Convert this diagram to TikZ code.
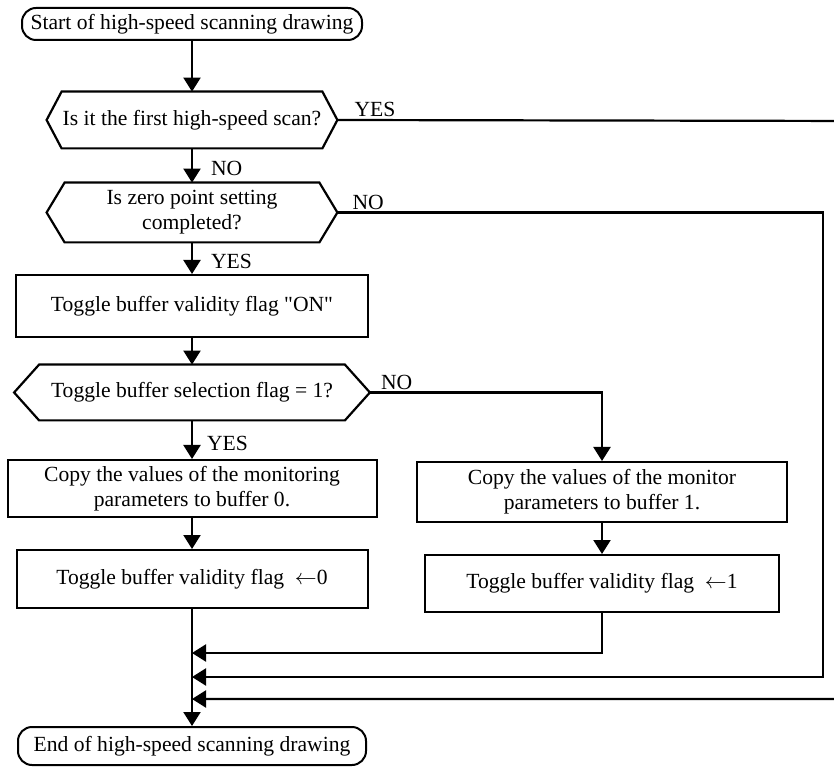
\documentclass[tikz,border=0pt]{standalone}
\usepackage{fontspec}
\setmainfont{Liberation Serif}
\usetikzlibrary{arrows.meta,calc,positioning}
\newcommand\hsdfont{\fontsize{10.8}{12.5}\selectfont}
\tikzset{
 hsd line/.style={line width=1.1pt},
 hsd arrow/.style={line width=1.1pt,-{Triangle[length=7pt,width=8.5pt]}},
 hsd box/.style={draw,line width=1pt,rectangle,align=center,inner sep=2pt,
                 font=\hsdfont},
 hsd term/.style={draw,line width=1pt,rectangle,rounded corners=7pt,
                  align=center,inner sep=2pt,font=\hsdfont},
 hsd decision/.style={rectangle,align=center,inner sep=2pt,font=\hsdfont},
 hsd label/.style={font=\hsdfont,inner sep=1pt}
}
% hexagon drawn round a decision node, #2 = depth of the side points
\newcommand\hsdhex[2]{%
 \draw[hsd line] (#1.west) -- ([xshift=#2]#1.north west)
   -- ([xshift=-#2]#1.north east) -- (#1.east)
   -- ([xshift=-#2]#1.south east) -- ([xshift=#2]#1.south west) -- cycle;}

\begin{document}
\begin{tikzpicture}[x=0.5pt,y=-0.5pt]
 \useasboundingbox (0,0) rectangle (834,769);
 \clip (0,0) rectangle (834,769);

 \node[hsd term,minimum width=170pt,minimum height=16pt] (start) at (192,24)
   {Start of high-speed scanning drawing};
 \node[hsd decision,minimum width=145pt,minimum height=28pt] (first) at (192,120)
   {Is it the first high-speed scan?};
 \node[hsd decision,minimum width=145pt,minimum height=29.5pt] (zero) at (192,212.5)
   {Is zero point setting\\completed?};
 \node[hsd box,minimum width=176pt,minimum height=31pt] (on) at (192,306)
   {Toggle buffer validity flag \textquotedbl ON\textquotedbl};
 \node[hsd decision,minimum width=177.5pt,minimum height=27.5pt] (sel) at (192,392.5)
   {Toggle buffer selection flag = 1?};
 \node[hsd box,minimum width=184.5pt,minimum height=28.5pt] (copyA) at (192,488.5)
   {Copy the values of the monitoring\\parameters to buffer 0.};
 \node[hsd box,minimum width=175.5pt,minimum height=29pt] (flagA) at (192,579)
   {Toggle buffer validity flag \ $\leftarrow$0};
 \node[hsd box,minimum width=185pt,minimum height=30pt] (copyB) at (602,492)
   {Copy the values of the monitor\\parameters to buffer 1.};
 \node[hsd box,minimum width=177pt,minimum height=28.5pt] (flagB) at (602,583.5)
   {Toggle buffer validity flag \ $\leftarrow$1};
 \node[hsd term,minimum width=174pt,minimum height=19pt] (stop) at (192,746)
   {End of high-speed scanning drawing};

 \hsdhex{first}{7.5pt}
 \hsdhex{zero}{9pt}
 \hsdhex{sel}{12.5pt}

 \coordinate (yesturn) at (860,121);
 \coordinate (noturn) at (823,212.5);
 \coordinate (selturn) at (602,392.5);
 \coordinate (m1) at (192,653);
 \coordinate (m2) at (192,677);
 \coordinate (m3) at (192,699);

 \draw[hsd arrow] (start) -- (first);
 \draw[hsd arrow] (first) -- node[hsd label,right,pos=.6,xshift=8pt] {NO} (zero);
 \draw[hsd arrow] (zero) -- node[hsd label,right,pos=.6,xshift=8pt] {YES} (on);
 \draw[hsd arrow] (on) -- (sel);
 \draw[hsd arrow] (sel) -- node[hsd label,right,pos=.6,xshift=6pt] {YES} (copyA);
 \draw[hsd arrow] (copyA) -- (flagA);
 \draw[hsd arrow] (copyB) -- (flagB);
 \draw[hsd arrow] (flagA) -- (stop);

 \draw[hsd arrow] (first.east)
   -- node[hsd label,pos=0,anchor=south west,xshift=7pt] {YES} (yesturn) |- (m3);
 \draw[hsd arrow] (zero.east)
   -- node[hsd label,pos=0,anchor=south west,xshift=6pt] {NO} (noturn) |- (m2);
 \draw[hsd arrow] (sel.east)
   -- node[hsd label,pos=0,anchor=south west,xshift=4pt] {NO} (selturn) -- (copyB);
 \draw[hsd arrow] (flagB) |- (m1);
\end{tikzpicture}
\end{document}
